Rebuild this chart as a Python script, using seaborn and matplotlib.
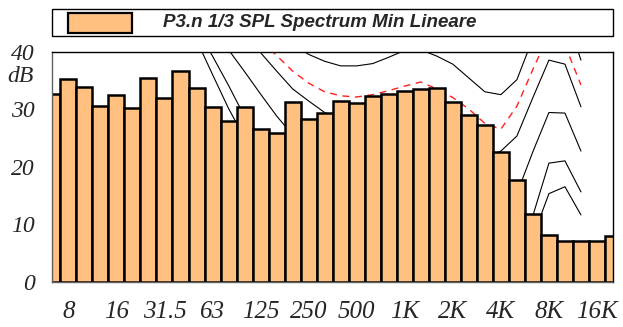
import numpy as np
import pandas as pd
import matplotlib
matplotlib.use("Agg")
import matplotlib.pyplot as plt
import seaborn as sns
from matplotlib.patches import Rectangle

# ---------------- data ----------------
bands = ["6.3", "8", "10", "12.5", "16", "20", "25", "31.5", "40", "50", "63", "80",
         "100", "125", "160", "200", "250", "315", "400", "500", "630", "800", "1K",
         "1.25K", "1.6K", "2K", "2.5K", "3.15K", "4K", "5K", "6.3K", "8K", "10K",
         "12.5K", "16K", "20K"]
spl = [32.6, 35.3, 33.9, 30.6, 32.5, 30.1, 35.4, 31.9, 36.6, 33.7, 30.3, 28.0,
       30.3, 26.6, 25.9, 31.2, 28.3, 29.3, 31.4, 31.0, 32.2, 32.6, 33.1,
       33.4, 33.7, 31.2, 29.0, 27.2, 22.5, 17.7, 11.8, 8.1, 7.1,
       7.0, 7.1, 8.0]
tick_labels = ["8", "16", "31.5", "63", "125", "250", "500", "1K", "2K", "4K", "8K", "16K"]
y_ticks = [0, 10, 20, 30, 40]

# contour curves, 40 Hz .. 12.5 kHz
curve_bands = bands[8:34]
curve_1 = [48, 42, 36, 30.1, 25, 20.5, 16.5, 13, 10.5, 8.5, 7, 6, 5, 4.5, 4.5, 4.5,
           3.5, 2, 1, 0.5, 1, 2.5, 7.8, 15.3, 16.5, 11.6]
curve_2 = [50, 44, 39.2, 34.1, 28.7, 25, 21.5, 19, 17, 15.5, 14.5, 13.5, 13, 13, 13.5, 14,
           13, 11, 9, 8, 8.5, 9.5, 11.5, 20.6, 21.0, 15.6]
curve_3 = [55, 51, 44, 40.3, 36.5, 32.6, 28.8, 25.5, 24, 23, 22, 21.5, 21, 21, 21.5, 22,
           21.5, 20, 18, 16.5, 16, 15.3, 22.6, 29.4, 29.3, 22.7]
curve_4 = [60, 56, 52, 48.5, 44.5, 39.8, 36.6, 33.5, 31.4, 29.4, 28, 27, 26.5, 26.5, 27, 27.5,
           27, 25.5, 23.5, 21.5, 22.7, 25.3, 32, 38.5, 37.8, 30.4]
curve_5 = [60, 56, 52, 49, 46, 44.5, 43, 41.2, 39.5, 38.3, 37.5, 37.5, 37.9, 39.0, 40.2, 40.3,
           39.2, 37.8, 35.4, 33.0, 32.5, 35.1, 42.3, 50, 47, 38.5]
curve_red = [60, 55, 50, 46, 44, 42, 39.3, 36.6, 34.5, 33.0, 32.3, 32.1, 32.5, 33.2, 34.0, 34.7,
             33.5, 32.0, 30.0, 27.5, 26.5, 30.5, 36.9, 43.0, 41.1, 34.2]

legend_text = "P3.n 1/3 SPL Spectrum Min Lineare"
bar_color = "#FFC080"

# ---------------- figure ----------------
sns.set_style("white")
plt.rcParams["font.family"] = ["DejaVu Sans"]

W, H = 623, 327
fig = plt.figure(figsize=(W / 100, H / 100), dpi=100)
ax_l, ax_r, ax_t, ax_b = 51.7, 613, 51.5, 281.7
ax = fig.add_axes([ax_l / W, 1 - ax_b / H, (ax_r - ax_l) / W, (ax_b - ax_t) / H])

df = pd.DataFrame({"band": bands, "spl": spl})
sns.barplot(data=df, x="band", y="spl", order=bands, color=bar_color, saturation=1,
            width=1.0, edgecolor="black", linewidth=1.8, zorder=3, ax=ax)

pos = {b: i for i, b in enumerate(bands)}
cx = [pos[b] for b in curve_bands]
for c in [curve_1, curve_2, curve_3, curve_4, curve_5]:
    ax.plot(cx, c, color="black", lw=0.8, zorder=2)
ax.plot(cx, curve_red, color="#FF2020", lw=1.0, ls=(0, (5, 4)), zorder=2)

ax.set_xlim(-0.04, 34.96)
ax.set_ylim(0, 40)
ax.set_xlabel("")
ax.set_ylabel("")

serif_x = dict(family="Liberation Serif", style="italic", size=18)
serif_y = dict(family="Liberation Serif", style="italic", size=17)
ax.set_xticks([pos[t] for t in tick_labels])
ax.set_xticklabels(tick_labels, fontdict=serif_x)
ax.set_xticks(range(len(bands)), minor=True)
ax.set_yticks(y_ticks)
ax.set_yticklabels([str(v) for v in y_ticks], fontdict=serif_y)
ax.set_yticks(np.arange(0, 41, 2), minor=True)

ax.tick_params(axis="x", which="major", length=9.5, width=1.1, color="#606060", pad=4.5)
ax.tick_params(axis="x", which="minor", length=4.8, width=1.1, color="#606060")
ax.tick_params(axis="y", which="major", length=12, width=1.1, color="#606060", pad=0)
ax.tick_params(axis="y", which="minor", length=6.5, width=1.1, color="#606060")

for s in ["top", "right"]:
    ax.spines[s].set_color("black")
    ax.spines[s].set_linewidth(1.0)
for s in ["left", "bottom"]:
    ax.spines[s].set_color("#606060")
    ax.spines[s].set_linewidth(1.0)
for s in ax.spines.values():
    s.set_zorder(5)

fig.text(34 / W, 1 - 77 / H, "dB", ha="right", va="center", **serif_y)

# legend box
fig.patches.append(Rectangle((ax_l / W, 1 - 35.7 / H), (ax_r - ax_l) / W, 26.4 / H,
                             transform=fig.transFigure, facecolor="white",
                             edgecolor="black", lw=1.0))
fig.patches.append(Rectangle((67.7 / W, 1 - 33.3 / H), 64 / W, 20.6 / H,
                             transform=fig.transFigure, facecolor=bar_color,
                             edgecolor="black", lw=1.6))
fig.text(163 / W, 1 - 22.5 / H, legend_text, ha="left", va="center",
         family="Liberation Sans", weight="bold", style="italic", size=13.5)

fig.savefig("out.png", dpi=100)
